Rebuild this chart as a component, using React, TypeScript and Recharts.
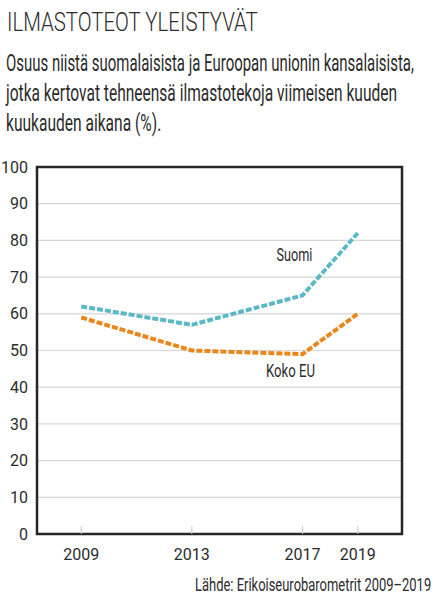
import React, { useLayoutEffect, useRef, useState } from 'react';
import { LineChart, Line, XAxis, YAxis, CartesianGrid, ReferenceArea } from 'recharts';

const years = [2009, 2013, 2017, 2019];
const suomi = [62, 57, 65, 82];
const kokoEU = [59, 50, 49, 60];
const yTicks = [0, 10, 20, 30, 40, 50, 60, 70, 80, 90, 100];

const title = 'ILMASTOTEOT YLEISTYVÄT';
const subtitleLines = [
  'Osuus niistä suomalaisista ja Euroopan unionin kansalaisista,',
  'jotka kertovat tehneensä ilmastotekoja viimeisen kuuden',
  'kuukauden aikana (%).',
];
const source = 'Lähde: Erikoiseurobarometrit 2009–2019';

const data = years.map((year, i) => ({ year, suomi: suomi[i], eu: kokoEU[i] }));

const FONT = 'Roboto, "Liberation Sans", sans-serif';
const INK = '#2b2b2b';
const TEAL = '#5bb8c7';
const ORANGE = '#e8871c';

// one line of HTML text squeezed horizontally to a given width (the original font is condensed)
function FitText({ text, x, baseline, width, size, weight = 400 }: any) {
  const ref = useRef<HTMLSpanElement>(null);
  const [scale, setScale] = useState(1);
  useLayoutEffect(() => {
    if (ref.current) setScale(width / ref.current.offsetWidth);
  }, [text, width, size]);
  return (
    <span
      ref={ref}
      style={{
        position: 'absolute',
        left: x,
        top: baseline - 0.842 * size,
        fontFamily: FONT,
        fontSize: size,
        fontWeight: weight,
        lineHeight: `${size}px`,
        color: INK,
        whiteSpace: 'nowrap',
        transform: `scaleX(${scale})`,
        transformOrigin: 'left top',
      }}
    >
      {text}
    </span>
  );
}

// name tag drawn next to the 2017 point of a line
const seriesLabel = (text: string, dx: number, dy: number, width: number) => (props: any) => {
  if (props.index !== 2) return null;
  return (
    <text
      key={text}
      x={props.x + dx}
      y={props.y + dy}
      textAnchor="middle"
      fontFamily={FONT}
      fontSize={18}
      fill={INK}
      textLength={width}
      lengthAdjust="spacingAndGlyphs"
    >
      {text}
    </text>
  );
};

export default function App() {
  return (
    <div style={{ position: 'absolute', left: 0, top: 0, width: 445, height: 600, background: '#fff', overflow: 'hidden' }}>
      <LineChart
        width={445}
        height={600}
        data={data}
        margin={{ top: 167, right: 43, bottom: 26, left: 0 }}
        style={{ position: 'absolute', left: 0, top: 0 }}
      >
        <CartesianGrid vertical={false} stroke="#d6d6d6" strokeWidth={1.2} />
        <ReferenceArea y1={0} y2={100} fill="none" stroke="#262626" strokeWidth={2.5} />
        <XAxis
          dataKey="year"
          type="number"
          domain={[2007.4, 2020.6]}
          ticks={years}
          height={40}
          axisLine={false}
          tickSize={-8}
          tickMargin={23}
          tickLine={{ stroke: '#c8c8c8' }}
          tick={{ fontFamily: FONT, fontSize: 16, fill: INK }}
        />
        <YAxis
          domain={[0, 100]}
          ticks={yTicks}
          width={37}
          axisLine={false}
          tickLine={false}
          tickSize={0}
          tickMargin={9}
          tick={{ fontFamily: FONT, fontSize: 16, fill: INK }}
        />
        <Line
          dataKey="suomi"
          stroke={TEAL}
          strokeWidth={4}
          strokeDasharray="6 2"
          dot={false}
          isAnimationActive={false}
          label={seriesLabel('Suomi', -8, -34, 36)}
        />
        <Line
          dataKey="eu"
          stroke={ORANGE}
          strokeWidth={4}
          strokeDasharray="6 2"
          dot={false}
          isAnimationActive={false}
          label={seriesLabel('Koko EU', -12, 23, 49)}
        />
      </LineChart>
      <FitText text={title} x={7} baseline={30.5} width={251} size={26} weight={300} />
      {subtitleLines.map((line, i) => (
        <FitText key={i} text={line} x={6} baseline={71.7 + i * 30} width={[408, 391, 155][i]} size={24.5} />
      ))}
      <FitText text={source} x={195} baseline={591} width={236} size={18} />
    </div>
  );
}
